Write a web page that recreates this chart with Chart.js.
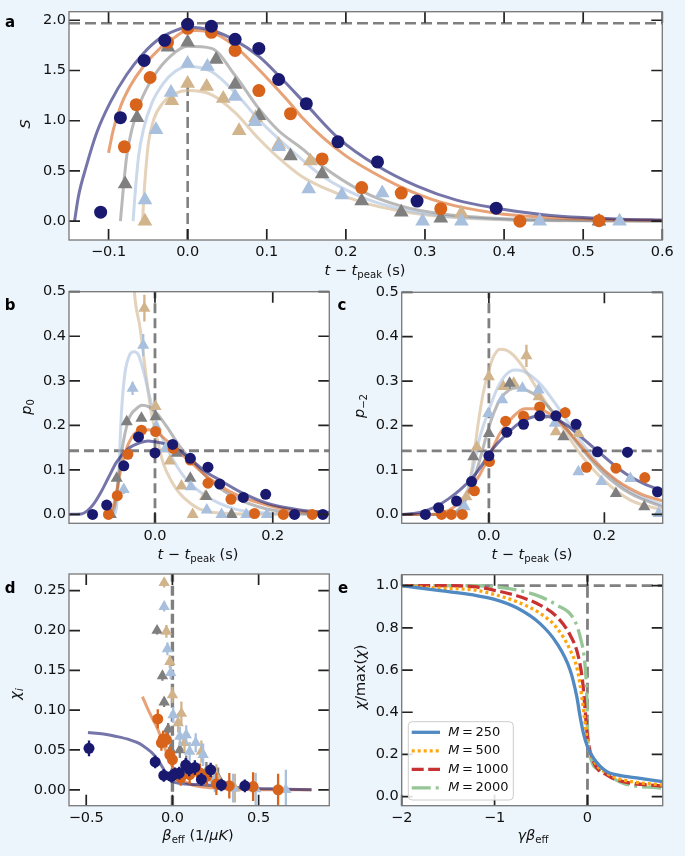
<!DOCTYPE html>
<html>
<head>
<meta charset="utf-8">
<script src="https://cdn.jsdelivr.net/npm/chart.js"></script>
<style>
  body { margin: 0; background: #ecf4fc; }
  #fig { position: relative; width: 685px; height: 856px; overflow: hidden; }
  canvas { position: absolute; }
  .ttl { position: absolute; transform: translate(-50%, -50%); white-space: nowrap; font: 14.5px "DejaVu Sans"; color: #111; line-height: 1; }
  .rot { transform: translate(-50%, -50%) rotate(-90deg); }
  .ttl sub { font-size: 70%; vertical-align: -0.3em; line-height: 0; }
  .pl { position: absolute; transform: translate(-50%, -50%); font: bold 15px "DejaVu Sans"; color: #000; line-height: 1; }
</style>
</head>
<body>
<div id="fig">
  <canvas id="chartA" width="685" height="262" style="left:0;top:0"></canvas>
  <canvas id="chartB" width="340" height="265" style="left:0;top:280px"></canvas>
  <canvas id="chartC" width="345" height="265" style="left:340px;top:280px"></canvas>
  <canvas id="chartD" width="340" height="300" style="left:0;top:556px"></canvas>
  <canvas id="chartE" width="345" height="300" style="left:340px;top:556px"></canvas>

  <div class="pl" style="left:10px;top:22px">a</div>
  <div class="pl" style="left:10px;top:305px">b</div>
  <div class="pl" style="left:342px;top:305px">c</div>
  <div class="pl" style="left:10px;top:588px">d</div>
  <div class="pl" style="left:343px;top:588px">e</div>

  <div class="ttl" style="left:365px;top:270px"><i>t</i> − <i>t</i><sub>peak</sub> (s)</div>
  <div class="ttl rot" style="left:25px;top:124px"><i>S</i></div>
  <div class="ttl" style="left:198px;top:554px"><i>t</i> − <i>t</i><sub>peak</sub> (s)</div>
  <div class="ttl rot" style="left:26px;top:407px"><i>p</i><sub>0</sub></div>
  <div class="ttl" style="left:532px;top:554px"><i>t</i> − <i>t</i><sub>peak</sub> (s)</div>
  <div class="ttl rot" style="left:359px;top:406px"><i>p</i><sub>−2</sub></div>
  <div class="ttl" style="left:198px;top:835px"><i>β</i><sub>eff</sub> (1/<i>μK</i>)</div>
  <div class="ttl rot" style="left:15px;top:694px"><i>χ</i><sub><i>i</i></sub></div>
  <div class="ttl" style="left:533px;top:835px"><i>γβ</i><sub>eff</sub></div>
  <div class="ttl rot" style="left:360px;top:677px"><i>χ</i>/max(<i>χ</i>)</div>
</div>

<script>
// ---- panel a : S vs t - t_peak ----
const aNavy = [[-0.11, 0.09], [-0.085, 1.03], [-0.055, 1.6], [-0.029, 1.8], [0, 1.96], [0.03, 1.94], [0.06, 1.81], [0.09, 1.72], [0.115, 1.41], [0.15, 1.17], [0.19, 0.79], [0.24, 0.59], [0.29, 0.2], [0.39, 0.13]];
const aOrange = [[-0.08, 0.74], [-0.065, 1.16], [-0.0475, 1.43], [-0.0255, 1.78], [0, 1.92], [0.03, 1.88], [0.06, 1.7], [0.09, 1.3], [0.13, 1.07], [0.17, 0.62], [0.22, 0.335], [0.27, 0.28], [0.32, 0.125], [0.42, 0.0], [0.52, 0.005]];
const aGray = [[-0.079, 0.37], [-0.064, 1.03], [-0.025, 1.73], [0, 1.78], [0.036, 1.61], [0.06, 1.36], [0.09, 1.05], [0.13, 0.65], [0.17, 0.47], [0.22, 0.2], [0.27, 0.09], [0.32, 0.03], [0.52, 0.0]];
const aLight = [[-0.054, 0.21], [-0.04, 0.91], [-0.021, 1.28], [0, 1.57], [0.025, 1.54], [0.06, 1.24], [0.085, 0.99], [0.115, 0.74], [0.153, 0.32], [0.195, 0.26], [0.246, 0.28], [0.297, 0.0], [0.346, 0.0], [0.445, 0.0], [0.546, 0.0]];
const aTan = [[-0.054, 0.0], [-0.02, 1.2], [0, 1.37], [0.024, 1.34], [0.045, 1.22], [0.065, 0.9], [0.086, 1.03], [0.115, 0.76], [0.155, 0.6], [0.346, 0.08]];

const aNavyFit = [[-0.143, 0], [-0.138, 0.25], [-0.128, 0.55], [-0.115, 0.88], [-0.098, 1.18], [-0.077, 1.46], [-0.056, 1.67], [-0.035, 1.82], [-0.015, 1.9], [0, 1.93], [0.03, 1.9], [0.06, 1.8], [0.09, 1.64], [0.115, 1.45], [0.15, 1.16], [0.19, 0.83], [0.24, 0.55], [0.29, 0.35], [0.34, 0.21], [0.39, 0.13], [0.45, 0.065], [0.5, 0.036], [0.55, 0.02], [0.6, 0.012]];
const aOrangeFit = [[-0.1, 0.68], [-0.094, 0.91], [-0.085, 1.14], [-0.073, 1.34], [-0.056, 1.54], [-0.035, 1.72], [-0.018, 1.82], [0, 1.9], [0.03, 1.88], [0.06, 1.74], [0.09, 1.51], [0.115, 1.3], [0.13, 1.17], [0.145, 1.03], [0.17, 0.84], [0.2, 0.65], [0.22, 0.55], [0.27, 0.34], [0.32, 0.19], [0.39, 0.08], [0.45, 0.04], [0.5, 0.022], [0.6, 0.008]];
const aGrayFit = [[-0.085, 0], [-0.081, 0.355], [-0.077, 0.65], [-0.0706, 0.91], [-0.06, 1.18], [-0.043, 1.44], [-0.022, 1.64], [0, 1.74], [0.03, 1.72], [0.06, 1.45], [0.09, 1.12], [0.115, 0.9], [0.145, 0.72], [0.17, 0.55], [0.22, 0.3], [0.27, 0.15], [0.32, 0.075], [0.4, 0.025], [0.5, 0.008], [0.6, 0.003]];
const aLightFit = [[-0.069, 0], [-0.066, 0.32], [-0.062, 0.65], [-0.056, 0.91], [-0.045, 1.18], [-0.031, 1.37], [-0.016, 1.49], [0, 1.54], [0.03, 1.49], [0.06, 1.28], [0.09, 1.01], [0.115, 0.82], [0.1435, 0.62], [0.17, 0.45], [0.22, 0.24], [0.27, 0.12], [0.32, 0.055], [0.4, 0.018], [0.5, 0.005], [0.6, 0.002]];
const aTanFit = [[-0.057, 0], [-0.055, 0.29], [-0.0525, 0.55], [-0.0496, 0.78], [-0.043, 1.01], [-0.031, 1.18], [-0.016, 1.27], [0, 1.3], [0.03, 1.26], [0.06, 1.08], [0.09, 0.82], [0.115, 0.63], [0.1435, 0.45], [0.17, 0.34], [0.22, 0.19], [0.27, 0.1], [0.32, 0.05], [0.4, 0.015], [0.5, 0.004], [0.6, 0.001]];

// ---- panel b : p0 ----  [x, y, err]
const bNavy = [[-0.106, 0], [-0.082, 0.021], [-0.053, 0.109], [-0.028, 0.174], [0, 0.138], [0.03, 0.157], [0.06, 0.126], [0.09, 0.106], [0.11, 0.068], [0.15, 0.038], [0.188, 0.045], [0.237, 0], [0.285, 0]];
const bOrange = [[-0.079, 0], [-0.064, 0.042], [-0.046, 0.135], [-0.023, 0.189], [0.001, 0.186], [0.031, 0.148], [0.06, 0.122], [0.09, 0.07], [0.129, 0.034], [0.169, 0.002], [0.218, 0], [0.267, 0]];
const bGray = [[-0.075, 0], [-0.065, 0.081], [-0.048, 0.208], [-0.023, 0.216], [0.001, 0.219], [0.037, 0.137], [0.06, 0.081], [0.087, 0.04], [0.13, 0]];
const bLight = [[-0.053, 0.056, 0.01], [-0.038, 0.283, 0.015], [-0.02, 0.38, 0.025], [0.002, 0.197], [0.018, 0.148], [0.061, 0.062], [0.088, 0.01], [0.113, 0], [0.155, 0], [0.19, 0]];
const bTan = [[-0.018, 0.463, 0.03], [0.001, 0.242], [0.025, 0.12], [0.045, 0.064], [0.064, 0], [0.085, 0.04]];

const bNavyFit = [[-0.146, 0], [-0.125, 0.001], [-0.115, 0.008], [-0.105, 0.022], [-0.093, 0.047], [-0.08, 0.08], [-0.065, 0.118], [-0.045, 0.148], [-0.025, 0.161], [-0.012, 0.165], [0, 0.163], [0.02, 0.157], [0.037, 0.148], [0.06, 0.124], [0.085, 0.097], [0.11, 0.077], [0.15, 0.047], [0.19, 0.025], [0.246, 0.01], [0.296, 0.004]];
const bOrangeFit = [[-0.08, 0], [-0.075, 0.004], [-0.068, 0.032], [-0.057, 0.107], [-0.045, 0.159], [-0.025, 0.189], [-0.009, 0.19], [0.009, 0.178], [0.031, 0.152], [0.06, 0.118], [0.088, 0.085], [0.133, 0.047], [0.19, 0.021], [0.246, 0.007], [0.296, 0.003]];
const bGrayFit = [[-0.073, 0], [-0.068, 0.02], [-0.065, 0.047], [-0.057, 0.137], [-0.045, 0.212], [-0.031, 0.238], [-0.022, 0.245], [-0.011, 0.242], [0.003, 0.227], [0.02, 0.197], [0.0425, 0.152], [0.065, 0.118], [0.093, 0.077], [0.133, 0.04], [0.19, 0.012], [0.246, 0.003], [0.296, 0.001]];
const bLightFit = [[-0.068, 0], [-0.065, 0.02], [-0.062, 0.077], [-0.057, 0.227], [-0.051, 0.317], [-0.043, 0.358], [-0.036, 0.365], [-0.028, 0.358], [-0.02, 0.324], [-0.009, 0.264], [0, 0.219], [0.014, 0.167], [0.031, 0.122], [0.054, 0.077], [0.088, 0.04], [0.133, 0.013], [0.19, 0.003], [0.296, 0]];
const bTanFit = [[-0.037, 0.55], [-0.035, 0.5], [-0.0255, 0.42], [-0.014, 0.3], [-0.006, 0.227], [0.003, 0.174], [0.014, 0.115], [0.03, 0.07], [0.042, 0.047], [0.06, 0.025], [0.076, 0.012], [0.1, 0.004], [0.15, 0.001], [0.296, 0]];

// ---- panel c : p-2 ----
const cNavy = [[-0.11, 0], [-0.087, 0.015], [-0.056, 0.03], [-0.03, 0.074], [0, 0.132], [0.031, 0.185], [0.06, 0.203], [0.088, 0.222], [0.116, 0.222], [0.151, 0.203, 0.012], [0.188, 0.141], [0.24, 0.14, 0.012], [0.292, 0.051]];
const cOrange = [[-0.082, 0], [-0.065, 0], [-0.046, 0], [-0.025, 0.053], [0.001, 0.119], [0.029, 0.21], [0.06, 0.221], [0.088, 0.242], [0.132, 0.229, 0.012], [0.169, 0.106], [0.22, 0.104], [0.27, 0.083]];
const cGray = [[-0.027, 0.13], [0, 0.182], [0.036, 0.295, 0.012], [0.091, 0.224], [0.129, 0.175], [0.22, 0.047], [0.269, 0.017]];
const cLight = [[-0.042, 0.017], [-0.001, 0.227], [0.023, 0.258], [0.058, 0.284], [0.086, 0.28], [0.114, 0.205], [0.155, 0.096], [0.195, 0.074], [0.245, 0.081], [0.294, 0.002]];
const cTan = [[-0.039, 0.04], [-0.021, 0.152], [0, 0.31], [0.025, 0.288], [0.043, 0.295], [0.065, 0.357, 0.025], [0.086, 0.265], [0.116, 0.186], [0.155, 0.182]];

const cNavyFit = [[-0.151, 0], [-0.13, 0.002], [-0.11, 0.008], [-0.09, 0.019], [-0.07, 0.035], [-0.05, 0.055], [-0.027, 0.085], [-0.01, 0.115], [0, 0.137], [0.015, 0.16], [0.031, 0.181], [0.05, 0.203], [0.07, 0.217], [0.09, 0.222], [0.11, 0.218], [0.13, 0.205], [0.146, 0.19], [0.168, 0.165], [0.188, 0.143], [0.215, 0.113], [0.239, 0.09], [0.27, 0.068], [0.301, 0.053]];
const cOrangeFit = [[-0.151, 0], [-0.1, 0], [-0.08, 0.004], [-0.06, 0.017], [-0.039, 0.045], [-0.016, 0.089], [0, 0.13], [0.019, 0.182], [0.042, 0.22], [0.062, 0.238], [0.083, 0.238], [0.112, 0.22], [0.146, 0.175], [0.181, 0.122], [0.221, 0.077], [0.262, 0.047], [0.301, 0.03]];
const cGrayFit = [[-0.151, 0], [-0.07, 0], [-0.055, 0.008], [-0.04, 0.035], [-0.027, 0.075], [-0.012, 0.14], [0, 0.197], [0.019, 0.258], [0.035, 0.28], [0.05, 0.285], [0.065, 0.28], [0.088, 0.262], [0.123, 0.212], [0.158, 0.152], [0.199, 0.092], [0.245, 0.047], [0.301, 0.017]];
const cLightFit = [[-0.151, 0], [-0.065, 0], [-0.05, 0.012], [-0.039, 0.045], [-0.027, 0.105], [-0.016, 0.172], [0, 0.235], [0.015, 0.285], [0.03, 0.315], [0.045, 0.325], [0.06, 0.322], [0.088, 0.295], [0.123, 0.235], [0.158, 0.167], [0.199, 0.1], [0.245, 0.052], [0.301, 0.021]];
const cTanFit = [[-0.151, 0], [-0.06, 0], [-0.047, 0.01], [-0.036, 0.055], [-0.027, 0.122], [-0.0185, 0.205], [-0.01, 0.272], [0, 0.325], [0.008, 0.355], [0.019, 0.372], [0.03, 0.37], [0.042, 0.359], [0.065, 0.321], [0.088, 0.273], [0.123, 0.205], [0.158, 0.137], [0.199, 0.077], [0.245, 0.032], [0.301, 0.01]];

// ---- panel d : chi_i vs beta_eff ----
const dNavy = [[-0.484, 0.052, 0.01], [-0.1, 0.035, 0.008], [-0.05, 0.018, 0.008], [-0.006, 0.017, 0.008], [0.015, 0.02, 0.008], [0.04, 0.021, 0.008], [0.077, 0.031, 0.009], [0.097, 0.026, 0.009], [0.13, 0.028, 0.009], [0.168, 0.013, 0.008], [0.222, 0.025, 0.009], [0.284, 0.006, 0.008], [0.42, 0.005, 0.008]];
const dOrange = [[-0.085, 0.089, 0.012], [-0.064, 0.059, 0.01], [-0.054, 0.064, 0.01], [-0.035, 0.063, 0.01], [-0.015, 0.044, 0.01], [0, 0.038, 0.01], [0.048, 0.015, 0.01], [0.1, 0.019, 0.012], [0.16, 0.021, 0.012], [0.2, 0.017, 0.012], [0.255, 0.0075, 0.014], [0.33, 0.005, 0.016], [0.468, 0.004, 0.018], [0.613, 0, 0.02]];
const dGray = [[-0.089, 0.2, 0.005], [-0.058, 0.143, 0.006], [-0.048, 0.11, 0.006], [-0.025, 0.076, 0.008], [-0.01, 0.05, 0.008], [0.043, 0.05, 0.01], [0.08, 0.033, 0.01], [0.197, 0.023, 0.012], [0.265, 0.015, 0.013]];
const dLight = [[-0.048, 0.23, 0.006], [-0.029, 0.177, 0.008], [-0.01, 0.147, 0.008], [0.004, 0.094, 0.01], [0.043, 0.067, 0.012], [0.08, 0.069, 0.012], [0.1, 0.048, 0.012], [0.135, 0.059, 0.012], [0.178, 0.044, 0.014], [0.246, 0.013, 0.016], [0.352, 0.002, 0.018], [0.483, 0.001, 0.02], [0.658, 0, 0.025]];
const dTan = [[-0.048, 0.26, 0.006], [-0.035, 0.199, 0.008], [-0.015, 0.161, 0.008], [0, 0.119, 0.01], [0.033, 0.084, 0.012], [0.052, 0.096, 0.015], [0.07, 0.059, 0.012], [0.168, 0.048, 0.014], [0.255, 0.017, 0.015], [0.362, 0.002, 0.018]];

const dNavyFit = [[-0.49, 0.072], [-0.4, 0.07], [-0.325, 0.067], [-0.25, 0.063], [-0.19, 0.058], [-0.15, 0.052], [-0.112, 0.045], [-0.08, 0.036], [-0.054, 0.027], [-0.03, 0.018], [0.004, 0.01], [0.05, 0.008], [0.1, 0.007], [0.2, 0.006], [0.3, 0.004], [0.45, 0.002], [0.6, 0.001], [0.807, 0]];
const dOrangeFit = [[-0.174, 0.117], [-0.14, 0.1], [-0.11, 0.087], [-0.093, 0.08], [-0.07, 0.068], [-0.054, 0.059], [-0.035, 0.047], [-0.015, 0.036], [0.01, 0.025], [0.043, 0.015], [0.1, 0.007], [0.159, 0.004], [0.25, 0.002], [0.35, 0.001], [0.5, 0], [0.807, 0]];

// ---- panel e : chi / max(chi) ----
const eLabels = ["250", "500", "1000", "2000"];
const eM250 = [[-2, 1], [-1.587, 0.976], [-1.228, 0.956], [-1, 0.935], [-0.761, 0.895], [-0.51, 0.82], [-0.33, 0.727], [-0.187, 0.6], [-0.115, 0.474], [-0.079, 0.379], [-0.043, 0.3], [0, 0.237], [0.065, 0.182], [0.208, 0.118], [0.316, 0.103], [0.567, 0.087], [0.81, 0.071]];
const eM500 = [[-2, 1], [-1.587, 0.988], [-1.228, 0.98], [-1, 0.958], [-0.761, 0.924], [-0.51, 0.869], [-0.33, 0.8], [-0.187, 0.695], [-0.108, 0.6], [-0.061, 0.474], [-0.025, 0.348], [0, 0.26], [0.065, 0.174], [0.208, 0.111], [0.388, 0.079], [0.81, 0.055]];
const eM1000 = [[-2, 1], [-1.587, 1.0], [-1.228, 0.995], [-1, 0.978], [-0.761, 0.952], [-0.51, 0.908], [-0.33, 0.853], [-0.187, 0.766], [-0.097, 0.663], [-0.05, 0.537], [-0.025, 0.41], [0, 0.284], [0.065, 0.166], [0.208, 0.103], [0.388, 0.071], [0.81, 0.05]];
const eM2000 = [[-2, 1], [-1.228, 1.0], [-1, 0.995], [-0.761, 0.98], [-0.51, 0.948], [-0.33, 0.908], [-0.151, 0.845], [-0.079, 0.758], [-0.025, 0.616], [-0.007, 0.474], [0, 0.33], [0.029, 0.19], [0.136, 0.126], [0.388, 0.063], [0.81, 0.04]];

// tick values
const aXTicks = [-0.1, 0, 0.1, 0.2, 0.3, 0.4, 0.5, 0.6];
const aYTicks = [0, 0.5, 1, 1.5, 2];
const pXTicks = [0, 0.2];
const pYTicks = [0, 0.1, 0.2, 0.3, 0.4, 0.5];
const dXTicks = [-0.5, 0, 0.5];
const dYTicks = [0, 0.05, 0.1, 0.15, 0.2, 0.25];
const eXTicks = [-2, -1, 0];
const eYTicks = [0, 0.2, 0.4, 0.6, 0.8, 1];

const navy = "#191970", orange = "#d8641c", gray = "#7f7f7f", light = "#a8c0dd", tan = "#d2b48c";
const navyL = "rgba(25,25,112,0.6)", orangeL = "rgba(216,100,28,0.6)", grayL = "rgba(127,127,127,0.55)";
const lightL = "rgba(168,192,221,0.6)", tanL = "rgba(210,180,140,0.6)";

Chart.defaults.font.family = "DejaVu Sans";
Chart.defaults.font.size = 14.5;
Chart.defaults.color = "#111";

// dashed guide lines, error bars, frame with inward ticks, legend of panel e
const extras = {
  chartA: { h: [{ y: 1.97 }], v: [{ x: 0, y1: 1.35 }], dash: [11, 5], lw: 2.6 },
  chartB: { h: [{ y: 1 / 7 }], v: [{ x: 0 }], dash: [10, 5], lw: 2.8 },
  chartC: { h: [{ y: 1 / 7 }], v: [{ x: 0 }], dash: [10, 5], lw: 2.8 },
  chartD: { h: [], v: [{ x: 0 }], dash: [10, 4], lw: 3.4 },
  chartE: { h: [{ y: 1 }], v: [{ x: 0 }], dash: [11, 5], lw: 2.8 },
};

const framePlugin = {
  id: "framePlugin",
  beforeDraw(chart) {
    const a = chart.chartArea, ctx = chart.ctx;
    ctx.save();
    ctx.fillStyle = "#fff";
    ctx.fillRect(a.left, a.top, a.right - a.left, a.bottom - a.top);
    ctx.restore();
  },
  beforeDatasetsDraw(chart) {
    const ex = extras[chart.canvas.id];
    const a = chart.chartArea, ctx = chart.ctx, xs = chart.scales.x, ys = chart.scales.y;
    ctx.save();
    ctx.beginPath();
    ctx.rect(a.left, a.top, a.right - a.left, a.bottom - a.top);
    ctx.clip();
    ctx.strokeStyle = "#808080";
    ctx.lineWidth = ex.lw;
    ctx.setLineDash(ex.dash);
    ex.h.forEach((l) => {
      const py = ys.getPixelForValue(l.y);
      ctx.beginPath();
      ctx.moveTo(a.left, py);
      ctx.lineTo(a.right, py);
      ctx.stroke();
    });
    ex.v.forEach((l) => {
      const px = xs.getPixelForValue(l.x);
      ctx.beginPath();
      ctx.moveTo(px, a.bottom);
      ctx.lineTo(px, l.y1 !== undefined ? ys.getPixelForValue(l.y1) : a.top);
      ctx.stroke();
    });
    ctx.restore();
  },
  afterDatasetDraw(chart, args) {
    const ds = chart.data.datasets[args.index];
    if (!ds.errs) return;
    const a = chart.chartArea, ctx = chart.ctx, xs = chart.scales.x, ys = chart.scales.y;
    ctx.save();
    ctx.beginPath();
    ctx.rect(a.left, a.top, a.right - a.left, a.bottom - a.top);
    ctx.clip();
    ctx.strokeStyle = ds.backgroundColor;
    ctx.lineWidth = ds.errWidth || 2.3;
    ds.data.forEach((p, i) => {
      const e = ds.errs[i];
      if (!e) return;
      const px = xs.getPixelForValue(p.x);
      ctx.beginPath();
      ctx.moveTo(px, ys.getPixelForValue(p.y - e));
      ctx.lineTo(px, ys.getPixelForValue(p.y + e));
      ctx.stroke();
    });
    ctx.restore();
  },
  afterDraw(chart) {
    const a = chart.chartArea, ctx = chart.ctx, xs = chart.scales.x, ys = chart.scales.y;
    const tl = 11;
    ctx.save();
    ctx.strokeStyle = "#222";
    ctx.lineWidth = 1.7;
    xs.ticks.forEach((t) => {
      const px = xs.getPixelForValue(t.value);
      ctx.beginPath();
      ctx.moveTo(px, a.bottom); ctx.lineTo(px, a.bottom - tl);
      ctx.moveTo(px, a.top); ctx.lineTo(px, a.top + tl);
      ctx.stroke();
    });
    ys.ticks.forEach((t) => {
      const py = ys.getPixelForValue(t.value);
      ctx.beginPath();
      ctx.moveTo(a.left, py); ctx.lineTo(a.left + tl, py);
      ctx.moveTo(a.right, py); ctx.lineTo(a.right - tl, py);
      ctx.stroke();
    });
    ctx.strokeStyle = "#777";
    ctx.lineWidth = 1.3;
    ctx.strokeRect(a.left, a.top, a.right - a.left, a.bottom - a.top);

    if (chart.canvas.id === "chartE") {
      const bx = a.left + 6.6, bw = 105, bh = 78.3, by = a.bottom - 5.7 - bh;
      ctx.beginPath();
      ctx.roundRect(bx, by, bw, bh, 4);
      ctx.fillStyle = "rgba(255,255,255,0.85)";
      ctx.fill();
      ctx.strokeStyle = "#cccccc";
      ctx.lineWidth = 1;
      ctx.stroke();
      chart.data.datasets.forEach((ds, i) => {
        const cy = by + 10.6 + i * 18.5;
        ctx.strokeStyle = ds.borderColor;
        ctx.lineWidth = ds.borderWidth;
        ctx.setLineDash(ds.borderDash || []);
        ctx.beginPath();
        ctx.moveTo(bx + 3.4, cy);
        ctx.lineTo(bx + 31.7, cy);
        ctx.stroke();
        ctx.setLineDash([]);
        ctx.fillStyle = "#111";
        ctx.textBaseline = "middle";
        let tx = bx + 40;
        ctx.font = "italic 13px 'DejaVu Sans'";
        ctx.fillText("M", tx, cy);
        tx += ctx.measureText("M").width + 2.5;
        ctx.font = "13px 'DejaVu Sans'";
        ctx.fillText("=", tx, cy);
        tx += ctx.measureText("=").width + 2.5;
        ctx.fillText(eLabels[i], tx, cy);
      });
    }
    ctx.restore();
  },
};
Chart.register(framePlugin);

function pts(arr) {
  return arr.map((p) => ({ x: p[0], y: p[1] }));
}

function marks(arr, color, style, r) {
  return {
    data: pts(arr),
    errs: arr.map((p) => p[2] || 0),
    backgroundColor: color,
    borderColor: color,
    borderWidth: 0,
    pointStyle: style,
    pointRadius: r,
    showLine: false,
  };
}

function fit(arr, color, w) {
  return {
    data: pts(arr),
    borderColor: color,
    borderWidth: w || 3,
    pointRadius: 0,
    showLine: true,
    cubicInterpolationMode: "monotone",
    clip: 0,
  };
}

function fmt(d) {
  return (v) => v.toFixed(d).replace("-", "\u2212");
}

function opts(xr, yr, xt, yt, xd, yd, pad, yW, xH) {
  return {
    responsive: false,
    animation: false,
    events: [],
    layout: { padding: pad },
    plugins: { legend: { display: false }, tooltip: { enabled: false } },
    scales: {
      x: {
        type: "linear",
        min: xr[0],
        max: xr[1],
        grid: { display: false, drawTicks: false },
        border: { display: false },
        afterBuildTicks: (s) => { s.ticks = xt.map((v) => ({ value: v })); },
        afterFit: (s) => { s.height = xH; },
        ticks: { padding: 4, maxRotation: 0, autoSkip: false, callback: fmt(xd) },
      },
      y: {
        type: "linear",
        min: yr[0],
        max: yr[1],
        grid: { display: false, drawTicks: false },
        border: { display: false },
        afterBuildTicks: (s) => { s.ticks = yt.map((v) => ({ value: v })); },
        afterFit: (s) => { s.width = yW; },
        ticks: { padding: 3, autoSkip: false, callback: fmt(yd) },
      },
    },
  };
}

new Chart(document.getElementById("chartA"), {
  type: "scatter",
  data: {
    datasets: [
      marks(aNavy, navy, "circle", 6.5),
      marks(aOrange, orange, "circle", 6.5),
      marks(aLight, light, "triangle", 8.5),
      marks(aGray, gray, "triangle", 8.5),
      marks(aTan, tan, "triangle", 8.5),
      fit(aNavyFit, navyL),
      fit(aOrangeFit, orangeL),
      fit(aGrayFit, grayL),
      fit(aLightFit, lightL),
      fit(aTanFit, tanL),
    ],
  },
  options: opts([-0.15, 0.6], [-0.187, 2.085], aXTicks, aYTicks, 1, 1,
    { left: 0, top: 9, right: 22.7, bottom: 0 }, 69, 22),
});

new Chart(document.getElementById("chartB"), {
  type: "scatter",
  data: {
    datasets: [
      marks(bNavy, navy, "circle", 5.5),
      marks(bOrange, orange, "circle", 5.5),
      marks(bLight, light, "triangle", 7),
      marks(bGray, gray, "triangle", 7),
      marks(bTan, tan, "triangle", 7),
      fit(bNavyFit, navyL),
      fit(bOrangeFit, orangeL),
      fit(bGrayFit, grayL),
      fit(bLightFit, lightL),
      fit(bTanFit, tanL),
    ],
  },
  options: opts([-0.146, 0.296], [-0.02, 0.5], pXTicks, pYTicks, 1, 1,
    { left: 0, top: 11.7, right: 10.7, bottom: 0 }, 69, 21.7),
});

new Chart(document.getElementById("chartC"), {
  type: "scatter",
  data: {
    datasets: [
      marks(cNavy, navy, "circle", 5.5),
      marks(cOrange, orange, "circle", 5.5),
      marks(cLight, light, "triangle", 7),
      marks(cGray, gray, "triangle", 7),
      marks(cTan, tan, "triangle", 7),
      fit(cNavyFit, navyL),
      fit(cOrangeFit, orangeL),
      fit(cGrayFit, grayL),
      fit(cLightFit, lightL),
      fit(cTanFit, tanL),
    ],
  },
  options: opts([-0.151, 0.301], [-0.02, 0.5], pXTicks, pYTicks, 1, 1,
    { left: 0, top: 12.3, right: 22.3, bottom: 0 }, 61.7, 21.7),
});

new Chart(document.getElementById("chartD"), {
  type: "scatter",
  data: {
    datasets: [
      marks(dNavy, navy, "circle", 5.5),
      marks(dOrange, orange, "circle", 5.5),
      marks(dLight, light, "triangle", 6.6),
      marks(dTan, tan, "triangle", 6.6),
      marks(dGray, gray, "triangle", 6.6),
      fit(dNavyFit, navyL),
      fit(dOrangeFit, orangeL),
    ],
  },
  options: opts([-0.6, 0.91], [-0.02, 0.271], dXTicks, dYTicks, 1, 2,
    { left: 0, top: 18, right: 10.7, bottom: 28.3 }, 69, 22),
});

const eOpts = opts([-2, 0.81], [-0.043, 1.052], eXTicks, eYTicks, 0, 1,
  { left: 0, top: 18.7, right: 22.3, bottom: 28.3 }, 61.7, 22);

new Chart(document.getElementById("chartE"), {
  type: "scatter",
  data: {
    datasets: [
      fit(eM250, "#5189c2", 3.3),
      { ...fit(eM500, "#ffa510", 3.3), borderDash: [3, 3] },
      { ...fit(eM1000, "#c83232", 3.3), borderDash: [12, 4.5] },
      { ...fit(eM2000, "#96c596", 3.3), borderDash: [19, 5, 3, 5] },
    ],
  },
  options: eOpts,
});
</script>
</body>
</html>
